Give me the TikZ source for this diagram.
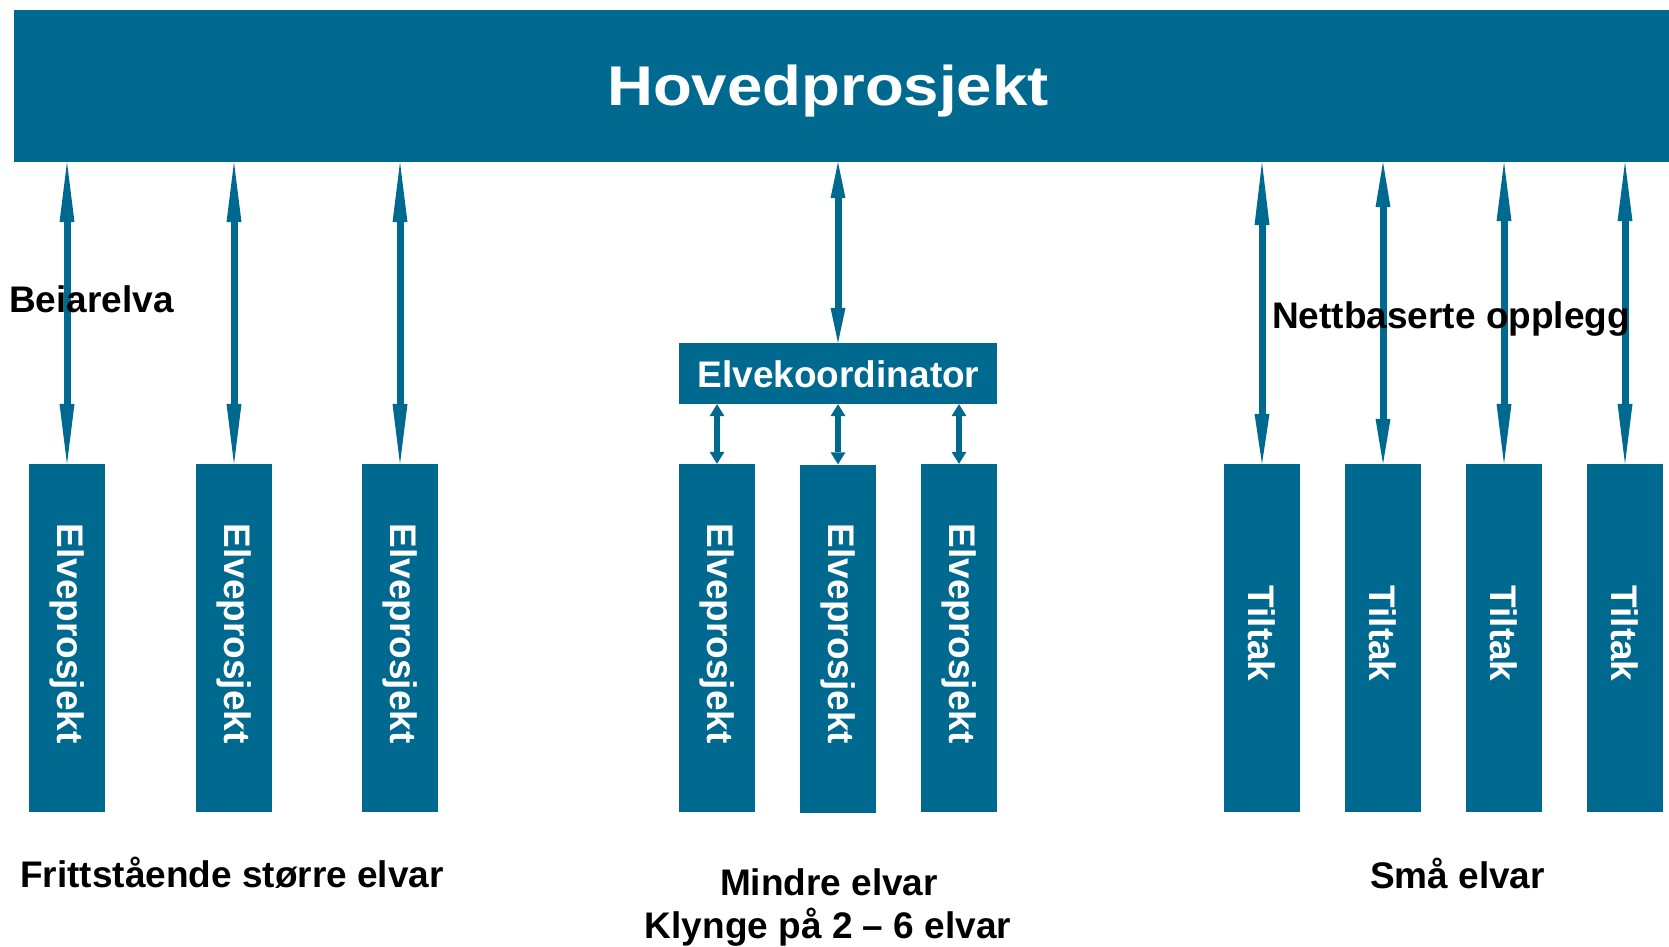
\documentclass[tikz,border=0pt]{standalone}
\usepackage{fontspec}
\setmainfont{Liberation Sans}
\usetikzlibrary{arrows.meta}
\definecolor{nblue}{RGB}{0,105,143}
\tikzset{
  box/.style={fill=nblue, inner sep=0pt, minimum width=76pt, minimum height=348pt},
  vlabel/.style={text=white, font=\fontsize{37}{40}\selectfont\bfseries, rotate=-90, inner sep=0pt},
  lbl/.style={text=black, font=\fontsize{37}{43}\selectfont\bfseries, inner sep=0pt},
  conn/.style 2 args={draw=nblue, line width=7pt,
    arrows={Triangle[length=#1pt,width=15pt,line width=0pt]-Triangle[length=#2pt,width=15pt,line width=0pt]}},
}
\begin{document}
\begin{tikzpicture}[x=1pt,y=-1pt]
\useasboundingbox (0,0) rectangle (1669,946);
% top bar
\node[fill=nblue, inner sep=0pt, minimum width=1655pt, minimum height=152pt] (top) at (841.5,86) {};
\node[text=white, font=\fontsize{56}{60}\selectfont\bfseries, inner sep=0pt, anchor=base west] (hovtxt) at (607,105) {\scalebox{1.135}[1]{Hovedprosjekt}};
% left boxes
\node[box] (l1) at (67,638) {};
\node[box] (l2) at (234,638) {};
\node[box] (l3) at (400,638) {};
% middle
\node[fill=nblue, inner sep=0pt, minimum width=318pt, minimum height=61pt] (koord) at (838,373.5) {};
\node[text=white, font=\fontsize{37}{40}\selectfont\bfseries, inner sep=0pt, anchor=base] (koordtxt) at (838.5,387) {Elvekoordinator};
\node[box] (m1) at (717,638) {};
\node[box] (m2) at (838,638.5) {};
\node[box] (m3) at (959,638) {};
% right
\node[box] (r1) at (1262,638) {};
\node[box] (r2) at (1383,638) {};
\node[box] (r3) at (1504,638) {};
\node[box] (r4) at (1625,638) {};
% box labels
\foreach \n in {l1,l2,l3,m1,m2,m3}{
  \node[vlabel] (\n t) at ([yshift=4.5pt]\n.center) {Elveprosjekt};
}
\foreach \n in {r1,r2,r3,r4}{
  \node[vlabel] (\n t) at ([yshift=4.5pt]\n.center) {Tiltak};
}
% connectors
\draw[conn={60}{60}] (l1.north) -- (l1.north |- top.south);
\draw[conn={60}{60}] (l2.north) -- (l2.north |- top.south);
\draw[conn={60}{60}] (l3.north) -- (l3.north |- top.south);
\draw[conn={35}{36}] (koord.north) -- (koord.north |- top.south);
\draw[conn={12}{12}, line width=6.5pt] (m1.north) -- (m1.north |- koord.south);
\draw[conn={12}{12}, line width=6.5pt] (m2.north) -- (m2.north |- koord.south);
\draw[conn={12}{12}, line width=6.5pt] (m3.north) -- (m3.north |- koord.south);
\draw[conn={50}{63}] (r1.north) -- (r1.north |- top.south);
\draw[conn={45}{45}] (r2.north) -- (r2.north |- top.south);
\draw[conn={60}{59}] (r3.north) -- (r3.north |- top.south);
\draw[conn={60}{59}] (r4.north) -- (r4.north |- top.south);
% free labels
\node[lbl, anchor=base west] (beiar) at (9,312) {Beiarelva};
\node[lbl, anchor=base west] (nett) at (1272,328) {Nettbaserte opplegg};
\node[lbl, anchor=base west] (fritt) at (20,887) {Frittstående større elvar};
\node[lbl, anchor=base] (mindre) at (829,895) {Mindre elvar};
\node[lbl, anchor=base] (klynge) at (828,938) {Klynge på 2 – 6 elvar};
\node[lbl, anchor=base] (smaa) at (1457.5,888) {Små elvar};
\end{tikzpicture}
\end{document}
